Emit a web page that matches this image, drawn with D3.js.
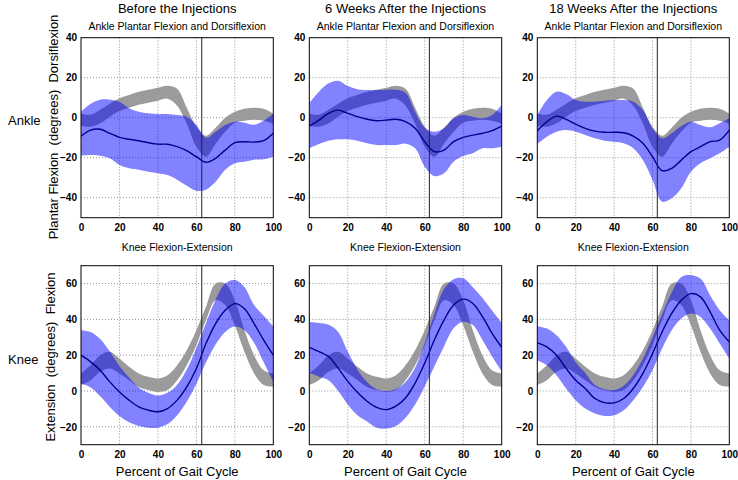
<!DOCTYPE html>
<html><head><meta charset="utf-8">
<script src="https://cdn.jsdelivr.net/npm/d3@7"></script>
<style>
body{margin:0;background:#fff;}
text{font-family:"Liberation Sans",Arial,sans-serif;fill:#000;}
</style></head>
<body><svg id="c" width="738" height="480"></svg>
<script>
// ---------- data ----------
const pct = [0,5,10,15,20,25,30,35,40,45,50,55,60,65,70,75,80,85,90,95,100];
const columnTitles = ["Before the Injections","6 Weeks After the Injections","18 Weeks After the Injections"];
const toeOff = [62.8, 62.4, 62.5];
const xTicks = [0,20,40,60,80,100];
const ankleTicks = [-40,-20,0,20,40];
const kneeTicks = [-20,0,20,40,60];

// normal reference bands
const ankleNormHi = [2,1.5,4,7,9.7,11.3,13,14,15,16,14.5,5,-4.5,-9,-5,0,3,4.5,5,4.5,2];
const ankleNormLo = [-4,-4.5,-2.8,0.5,3.3,5,6.5,7.5,8.5,9.5,6,-3,-14.5,-19.5,-13,-7,-2.5,-1.5,-1,-1.5,-3];
const kneeNormHi = [9.8,14.4,20,21.9,18.1,13.5,9.8,7.9,7,8.8,14.4,22.8,34,47,60,60,50.7,34,20,11.6,9.8];
const kneeNormLo = [3.3,6,10.7,12.6,9.8,6,2.3,0.5,-0.5,0.5,6,14.4,25.6,39.5,50.7,48,36.7,21.9,9.8,3.3,2.3];

// ankle - patient
const ankleBeforeHi = [3,7,9,9,8,4.7,3,2.2,1.8,1.8,1.3,0.5,-3.7,-10,-7,-3.7,-2,-2.5,-3.5,-1.5,2];
const ankleBeforeLo = [-19,-18.7,-19,-20.3,-23.7,-25.3,-26,-27,-27.8,-28.7,-31,-34,-36.5,-36,-32,-26,-22.8,-22,-21,-20.8,-19.5];
const ankleBeforeMean = [-9.2,-6.2,-5.8,-7.8,-9.8,-10.8,-11.5,-12.5,-13.2,-13.3,-14.5,-16.5,-19.5,-22.3,-20.3,-16.2,-12.5,-12,-12.2,-11.5,-7.8];

const ankle6wHi = [7.2,13,17.2,18.5,15.8,14.2,13.8,13.8,14,14,12.5,3,-5,-7,-5.3,-0.3,1.3,0.5,-0.3,1.3,6.3];
const ankle6wLo = [-15.3,-13.2,-11.5,-10.8,-10.8,-11.5,-12.8,-13.7,-13.7,-13.7,-13,-15.3,-24.5,-29.2,-27.8,-22,-19.2,-17.8,-15.3,-15.3,-14.5];
const ankle6wMean = [-4.2,-1.2,2.2,3.8,2.2,0.5,-0.8,-1.5,-1.2,-0.8,-2,-5.3,-12,-17,-16.2,-12,-9.8,-8.7,-7.8,-6.5,-4.2];

const ankle18wHi = [1.3,8.8,13,11.8,8.8,8,8,8.5,8.8,8.8,8,3.8,-5.3,-10.3,-7.8,-4.2,-2,-3.7,-4.8,-2.8,-0.3];
const ankle18wLo = [-13.2,-9.5,-7,-6.2,-7,-8.7,-10.3,-11.5,-12,-12.8,-15.3,-21.2,-31.2,-42,-40.3,-35.3,-27,-22.8,-20.3,-17.8,-14.5];
const ankle18wMean = [-6.5,-2,0.8,-0.8,-3.2,-5.3,-6.7,-7.3,-7.3,-7.5,-9.2,-12.8,-19.5,-26.5,-25.3,-21.2,-17,-14.5,-12,-11.2,-6.2];

// knee - patient
const kneeBeforeHi = [34,33,29,22,14,7.5,2,-1,-2.5,-1,3.5,12,24,38,51,60,62,58,48,42,36];
const kneeBeforeLo = [4,2,-3,-9,-14,-17.5,-19.5,-20.5,-20.5,-18.5,-13.5,-6,4,16,26,33,36,34,27,16,5];
const kneeBeforeMean = [20,16.3,11.6,5.1,-0.5,-5.1,-8.8,-10.7,-11.6,-9.8,-5.1,2.3,12.6,26.5,37.7,45.1,48.8,46,37.7,28.4,20];

const knee6wHi = [38.5,38,37,33,22,12,5,1,0,1,5,13,27,43,57,62.5,63,58,52,45,38];
const knee6wLo = [10,8,6,0,-7.5,-13.5,-17,-20.5,-21,-19.6,-15,-7.6,2.6,13.7,24.8,35,38.7,36.9,28.5,19.3,11];
const knee6wMean = [24.4,22,19.3,12.8,5.4,-0.7,-5.7,-9.1,-10.4,-8.5,-3.9,4.4,15.6,28.5,39.6,48,51.3,48.9,41.5,32.2,24.4];

const knee18wHi = [36.2,34.9,31.2,24.7,16,10,3.3,1,0.5,3,9,18,30,43,55,63.7,64.7,62.8,53.5,45.1,39.5];
const knee18wLo = [17.2,14.4,8.8,1.4,-5.1,-9.8,-12.6,-13.9,-13.5,-10.7,-5.1,2.3,11.6,23.7,34,40.5,43.3,41.4,34.9,26.5,18.1];
const knee18wMean = [26.9,24.7,20,12.6,6,1.4,-4.2,-6.5,-6.6,-4.2,1.4,9.8,20.9,33,43.3,50.7,54.4,52.6,44.2,34,27.4];

// ---------- drawing ----------
const svg = d3.select("#c");
const colX = [[81,273.3],[309.3,501.7],[537.3,729.3]];
const rows = [
  {name:"ankle", domain:[-50,40], range:[217.7,37.7], ticks:ankleTicks,
   normHi:ankleNormHi, normLo:ankleNormLo,
   series:[[ankleBeforeLo,ankleBeforeHi,ankleBeforeMean],[ankle6wLo,ankle6wHi,ankle6wMean],[ankle18wLo,ankle18wHi,ankle18wMean]]},
  {name:"knee", domain:[-30,70], range:[444.7,265.7], ticks:kneeTicks,
   normHi:kneeNormHi, normLo:kneeNormLo,
   series:[[kneeBeforeLo,kneeBeforeHi,kneeBeforeMean],[knee6wLo,knee6wHi,knee6wMean],[knee18wLo,knee18wHi,knee18wMean]]}
];
const curve = d3.curveCatmullRom.alpha(0.5);

rows.forEach((row, r) => {
  const y = d3.scaleLinear().domain(row.domain).range(row.range);
  colX.forEach((cx, c) => {
    const x = d3.scaleLinear().domain([0,100]).range(cx);
    const g = svg.append("g");
    const clipId = `clip-${r}-${c}`;
    svg.append("clipPath").attr("id", clipId).append("rect")
      .attr("x", cx[0]).attr("y", row.range[1]).attr("width", cx[1]-cx[0]).attr("height", row.range[0]-row.range[1]);
    // grid
    const grid = g.append("g").attr("stroke","#777").attr("stroke-width",0.8).attr("stroke-dasharray","1,2");
    xTicks.slice(1,-1).forEach(t => grid.append("line").attr("x1",x(t)).attr("x2",x(t)).attr("y1",row.range[1]).attr("y2",row.range[0]));
    row.ticks.filter(t => t>row.domain[0] && t<row.domain[1]).forEach(t => grid.append("line").attr("x1",cx[0]).attr("x2",cx[1]).attr("y1",y(t)).attr("y2",y(t)));
    const pg = g.append("g").attr("clip-path",`url(#${clipId})`);
    const area = (lo, hi) => d3.area().x((d,i)=>x(pct[i])).y0((d,i)=>y(lo[i])).y1((d,i)=>y(hi[i])).curve(curve)(pct);
    pg.append("path").attr("d", area(row.normLo,row.normHi)).attr("fill","#9b9b9b");
    const [lo,hi,mean] = row.series[c];
    pg.append("path").attr("d", area(lo,hi)).attr("fill","#0000ff").attr("fill-opacity",0.49);
    pg.append("path").attr("d", d3.line().x((d,i)=>x(pct[i])).y(d=>y(d)).curve(curve)(mean))
      .attr("fill","none").attr("stroke","#00008f").attr("stroke-width",1.4);
    // toe-off line
    g.append("line").attr("x1",x(toeOff[c])).attr("x2",x(toeOff[c])).attr("y1",row.range[1]).attr("y2",row.range[0])
      .attr("stroke","#222").attr("stroke-width",1);
    // frame
    g.append("rect").attr("x",cx[0]).attr("y",row.range[1]).attr("width",cx[1]-cx[0]).attr("height",row.range[0]-row.range[1])
      .attr("fill","none").attr("stroke","#000").attr("stroke-width",1);
    // axes
    const ax = g.append("g").attr("transform",`translate(0,${row.range[0]})`)
      .call(d3.axisBottom(x).tickValues(xTicks).tickSize(0).tickPadding(6));
    const ay = g.append("g").attr("transform",`translate(${cx[0]},0)`)
      .call(d3.axisLeft(y).tickValues(row.ticks).tickSize(0).tickPadding(4));
    [ax,ay].forEach(a => { a.select(".domain").remove(); a.selectAll("text").attr("font-size",10).attr("font-weight","bold").attr("font-family","Liberation Sans, Arial, sans-serif"); });
    const mid = (cx[0]+cx[1])/2;
    if (r===0) {
      svg.append("text").attr("x",mid).attr("y",12.5).attr("text-anchor","middle").attr("font-size",13).text(columnTitles[c]);
      svg.append("text").attr("x",mid).attr("y",29.5).attr("text-anchor","middle").attr("font-size",10.5).text("Ankle Plantar Flexion and Dorsiflexion");
    } else {
      svg.append("text").attr("x",mid).attr("y",250.5).attr("text-anchor","middle").attr("font-size",10.5).text("Knee Flexion-Extension");
      svg.append("text").attr("x",mid).attr("y",475.5).attr("text-anchor","middle").attr("font-size",13).text("Percent of Gait Cycle");
    }
  });
});

// row labels
svg.append("text").attr("x",8).attr("y",125).attr("font-size",13).text("Ankle");
svg.append("text").attr("x",8).attr("y",364).attr("font-size",13).text("Knee");
svg.append("text").attr("transform","translate(53,127) rotate(-90)").attr("text-anchor","middle").attr("dy","0.35em")
  .attr("font-size",13).style("white-space","pre").text("Plantar Flexion  (degrees)  Dorsiflexion");
svg.append("text").attr("transform","translate(50,357) rotate(-90)").attr("text-anchor","middle").attr("dy","0.35em")
  .attr("font-size",13).style("white-space","pre").text("Extension  (degrees)  Flexion");
</script></body></html>
